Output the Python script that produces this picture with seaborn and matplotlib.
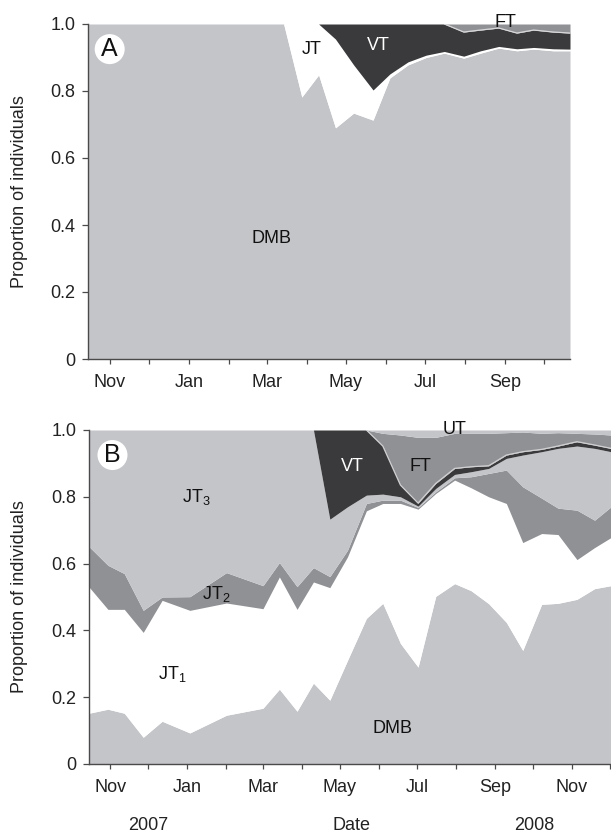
import matplotlib
matplotlib.use("Agg")
import matplotlib.pyplot as plt
import matplotlib.dates as mdates
import pandas as pd
import numpy as np
import seaborn as sns

# ---------------- data ----------------
dates = ["2007-10-15", "2007-10-30", "2007-11-12", "2007-11-27", "2007-12-12",
         "2008-01-03", "2008-02-01", "2008-03-01", "2008-03-14", "2008-03-28",
         "2008-04-10", "2008-04-23", "2008-05-07", "2008-05-22", "2008-06-04",
         "2008-06-18", "2008-07-02", "2008-07-16", "2008-07-31", "2008-08-13",
         "2008-08-27", "2008-09-10", "2008-09-23", "2008-10-08", "2008-10-21",
         "2008-11-05", "2008-11-19", "2008-12-02"]

# Panel A (Oct 2007 - Oct 2008): proportions per stage
a_dmb = [1, 1, 1, 1, 1, 1, 1, 1, 1, 0.782, 0.848, 0.690, 0.734, 0.713, 0.839,
         0.878, 0.900, 0.913, 0.898, 0.913, 0.928, 0.920, 0.925, 0.920, 0.920]
a_jt = [0, 0, 0, 0, 0, 0, 0, 0, 0, 0.218, 0.152, 0.265, 0.144, 0.090, 0.012,
        0.009, 0.007, 0.005, 0.006, 0.007, 0.005, 0.006, 0.005, 0.006, 0.005]
a_vt = [0, 0, 0, 0, 0, 0, 0, 0, 0, 0, 0, 0.045, 0.122, 0.197, 0.149,
        0.113, 0.093, 0.082, 0.072, 0.062, 0.055, 0.047, 0.052, 0.050, 0.048]
a_ft = [0, 0, 0, 0, 0, 0, 0, 0, 0, 0, 0, 0, 0, 0, 0,
        0, 0, 0, 0.024, 0.018, 0.012, 0.027, 0.018, 0.024, 0.027]

# Panel B (Oct 2007 - Dec 2008): proportions per stage
b_dmb = [0.152, 0.164, 0.152, 0.080, 0.128, 0.093, 0.146, 0.167, 0.224, 0.158,
         0.242, 0.191, 0.310, 0.436, 0.481, 0.361, 0.290, 0.502, 0.540, 0.519,
         0.480, 0.424, 0.340, 0.478, 0.481, 0.493, 0.525, 0.534]
b_jt1 = [0.378, 0.299, 0.311, 0.314, 0.362, 0.367, 0.336, 0.298, 0.336, 0.305,
         0.303, 0.337, 0.310, 0.322, 0.299, 0.419, 0.473, 0.308, 0.310, 0.308,
         0.320, 0.356, 0.323, 0.212, 0.206, 0.119, 0.123, 0.144]
b_jt2 = [0.121, 0.132, 0.107, 0.066, 0.010, 0.041, 0.091, 0.069, 0.043, 0.068,
         0.043, 0.033, 0.020, 0.022, 0.010, 0.010, 0.005, 0.005, 0.007, 0.033,
         0.070, 0.100, 0.167, 0.106, 0.079, 0.148, 0.082, 0.092]
b_jt3 = [0.349, 0.405, 0.430, 0.540, 0.500, 0.499, 0.427, 0.466, 0.397, 0.469,
         0.412, 0.172, 0.130, 0.025, 0.018, 0.010, 0.004, 0.010, 0.010, 0.015,
         0.015, 0.035, 0.095, 0.139, 0.179, 0.192, 0.215, 0.165]
b_vt = [0, 0, 0, 0, 0, 0, 0, 0, 0, 0,
        0, 0.267, 0.230, 0.195, 0.144, 0.035, 0.009, 0.015, 0.018, 0.015,
        0.008, 0.010, 0.010, 0.007, 0.007, 0.013, 0.010, 0.010]
b_ft = [0, 0, 0, 0, 0, 0, 0, 0, 0, 0,
        0, 0, 0, 0, 0.038, 0.150, 0.197, 0.138, 0.105, 0.100,
        0.097, 0.067, 0.059, 0.048, 0.040, 0.025, 0.033, 0.040]
b_ut = [0, 0, 0, 0, 0, 0, 0, 0, 0, 0,
        0, 0, 0, 0, 0.010, 0.015, 0.022, 0.022, 0.010, 0.010,
        0.010, 0.008, 0.006, 0.010, 0.008, 0.010, 0.012, 0.015]

ytick_vals = [0, 0.2, 0.4, 0.6, 0.8, 1.0]
ytick_labels = ["0", "0.2", "0.4", "0.6", "0.8", "1.0"]

# ---------------- style ----------------
sns.set_theme(style="ticks")
plt.rcParams['font.family'] = ['Liberation Sans', 'DejaVu Sans']
plt.rcParams['mathtext.fontset'] = 'custom'
plt.rcParams['mathtext.rm'] = 'Liberation Sans'
plt.rcParams['mathtext.it'] = 'Liberation Sans'

LIGHT = "#c4c5c9"
MID = "#909195"
DARK = "#3a3a3c"
WHITE = "#ffffff"
AXC = "#4a4a4a"

W, H = 611, 836
fig = plt.figure(figsize=(W / 100, H / 100), dpi=100)


def px_axes(l, r, t, b):
    return fig.add_axes([l / W, 1 - b / H, (r - l) / W, (b - t) / H])


axA = px_axes(88, 570, 24, 359)
axB = px_axes(89, 611, 430, 764)

dA = pd.to_datetime(dates[:len(a_dmb)])
dB = pd.to_datetime(dates)

axA.stackplot(dA, a_dmb, a_jt, a_vt, a_ft,
              colors=[LIGHT, WHITE, DARK, MID], linewidth=0)
axB.stackplot(dB, b_dmb, b_jt1, b_jt2, b_jt3, b_vt, b_ft, b_ut,
              colors=[LIGHT, WHITE, MID, LIGHT, DARK, MID, LIGHT], linewidth=0)

# light edge between VT and FT
topA = pd.DataFrame({"date": dA, "y": np.array(a_dmb) + np.array(a_jt) + np.array(a_vt)})
topA = topA[topA["date"] >= "2008-07-16"]
sns.lineplot(data=topA, x="date", y="y", ax=axA, color="#d8d8da", lw=0.9)
topB = pd.DataFrame({"date": dB, "y": np.array(b_dmb) + np.array(b_jt1) + np.array(b_jt2)
                     + np.array(b_jt3) + np.array(b_vt)})
topB = topB[topB["date"] >= "2008-05-22"]
sns.lineplot(data=topB, x="date", y="y", ax=axB, color="#d0d0d2", lw=0.9)

limsA = (pd.Timestamp("2007-10-15"), pd.Timestamp("2008-10-21"))
limsB = (pd.Timestamp("2007-10-15"), pd.Timestamp("2008-12-02"))

for ax, lims in [(axA, limsA), (axB, limsB)]:
    ax.set_xlim(*lims)
    ax.set_ylim(0, 1.0)
    ax.set_xlabel("")
    ax.set_ylabel("")
    for s in ["top", "right"]:
        ax.spines[s].set_visible(False)
    for s in ["left", "bottom"]:
        ax.spines[s].set_color(AXC)
        ax.spines[s].set_linewidth(1.0)
    ax.xaxis.set_major_locator(mdates.MonthLocator(bymonth=[1, 3, 5, 7, 9, 11]))
    ax.xaxis.set_major_formatter(mdates.DateFormatter("%b"))
    ax.xaxis.set_minor_locator(mdates.MonthLocator(bymonth=[2, 4, 6, 8, 10, 12]))
    ax.set_yticks(ytick_vals)
    ax.set_yticklabels(ytick_labels)
    ax.tick_params(axis="x", which="both", length=3.5, width=0.9, color=AXC,
                   pad=7, labelsize=13, labelcolor="#222222", direction="out")
    ax.tick_params(axis="y", which="both", length=4, width=0.9, color=AXC,
                   pad=5, labelsize=13, labelcolor="#222222", direction="out")
    ax.set_facecolor("white")
    ax.grid(False)

# panel letters
for ax, letter in [(axA, "A"), (axB, "B")]:
    ax.text(0.045, 0.925, letter, transform=ax.transAxes, fontsize=18,
            ha="center", va="center", color="#111111",
            bbox=dict(boxstyle="circle,pad=0.12", fc="white", ec="none"))

# region labels panel A
axA.text(pd.Timestamp("2008-04-05"), 0.925, "JT", fontsize=13, ha="center", va="center", color="#111111")
axA.text(pd.Timestamp("2008-05-26"), 0.935, "VT", fontsize=13, ha="center", va="center", color="white")
axA.text(pd.Timestamp("2008-09-01"), 1.005, "FT", fontsize=13, ha="center", va="center", color="#111111")
axA.text(pd.Timestamp("2008-03-05"), 0.36, "DMB", fontsize=13, ha="center", va="center", color="#111111")

# region labels panel B
axB.text(pd.Timestamp("2008-01-08"), 0.80, r"JT$_3$", fontsize=13, ha="center", va="center", color="#111111")
axB.text(pd.Timestamp("2008-01-24"), 0.51, r"JT$_2$", fontsize=13, ha="center", va="center", color="#111111")
axB.text(pd.Timestamp("2007-12-20"), 0.27, r"JT$_1$", fontsize=13, ha="center", va="center", color="#111111")
axB.text(pd.Timestamp("2008-05-11"), 0.89, "VT", fontsize=13, ha="center", va="center", color="white")
axB.text(pd.Timestamp("2008-07-04"), 0.89, "FT", fontsize=13, ha="center", va="center", color="#111111")
axB.text(pd.Timestamp("2008-07-31"), 1.0, "UT", fontsize=13, ha="center", va="center", color="#111111")
axB.text(pd.Timestamp("2008-06-12"), 0.105, "DMB", fontsize=13, ha="center", va="center", color="#111111")

# y labels
for cy in [(24 + 359) / 2, (430 + 764) / 2]:
    fig.text(20 / W, 1 - cy / H, "Proportion of individuals", rotation=90,
             ha="center", va="center", fontsize=13, color="#222222")

# year and date labels
fig.text(148 / W, 1 - 826 / H, "2007", ha="center", va="center", fontsize=13, color="#222222")
fig.text(351 / W, 1 - 826 / H, "Date", ha="center", va="center", fontsize=13, color="#222222")
fig.text(534 / W, 1 - 826 / H, "2008", ha="center", va="center", fontsize=13, color="#222222")

fig.savefig("out.png", dpi=100, facecolor="white")
